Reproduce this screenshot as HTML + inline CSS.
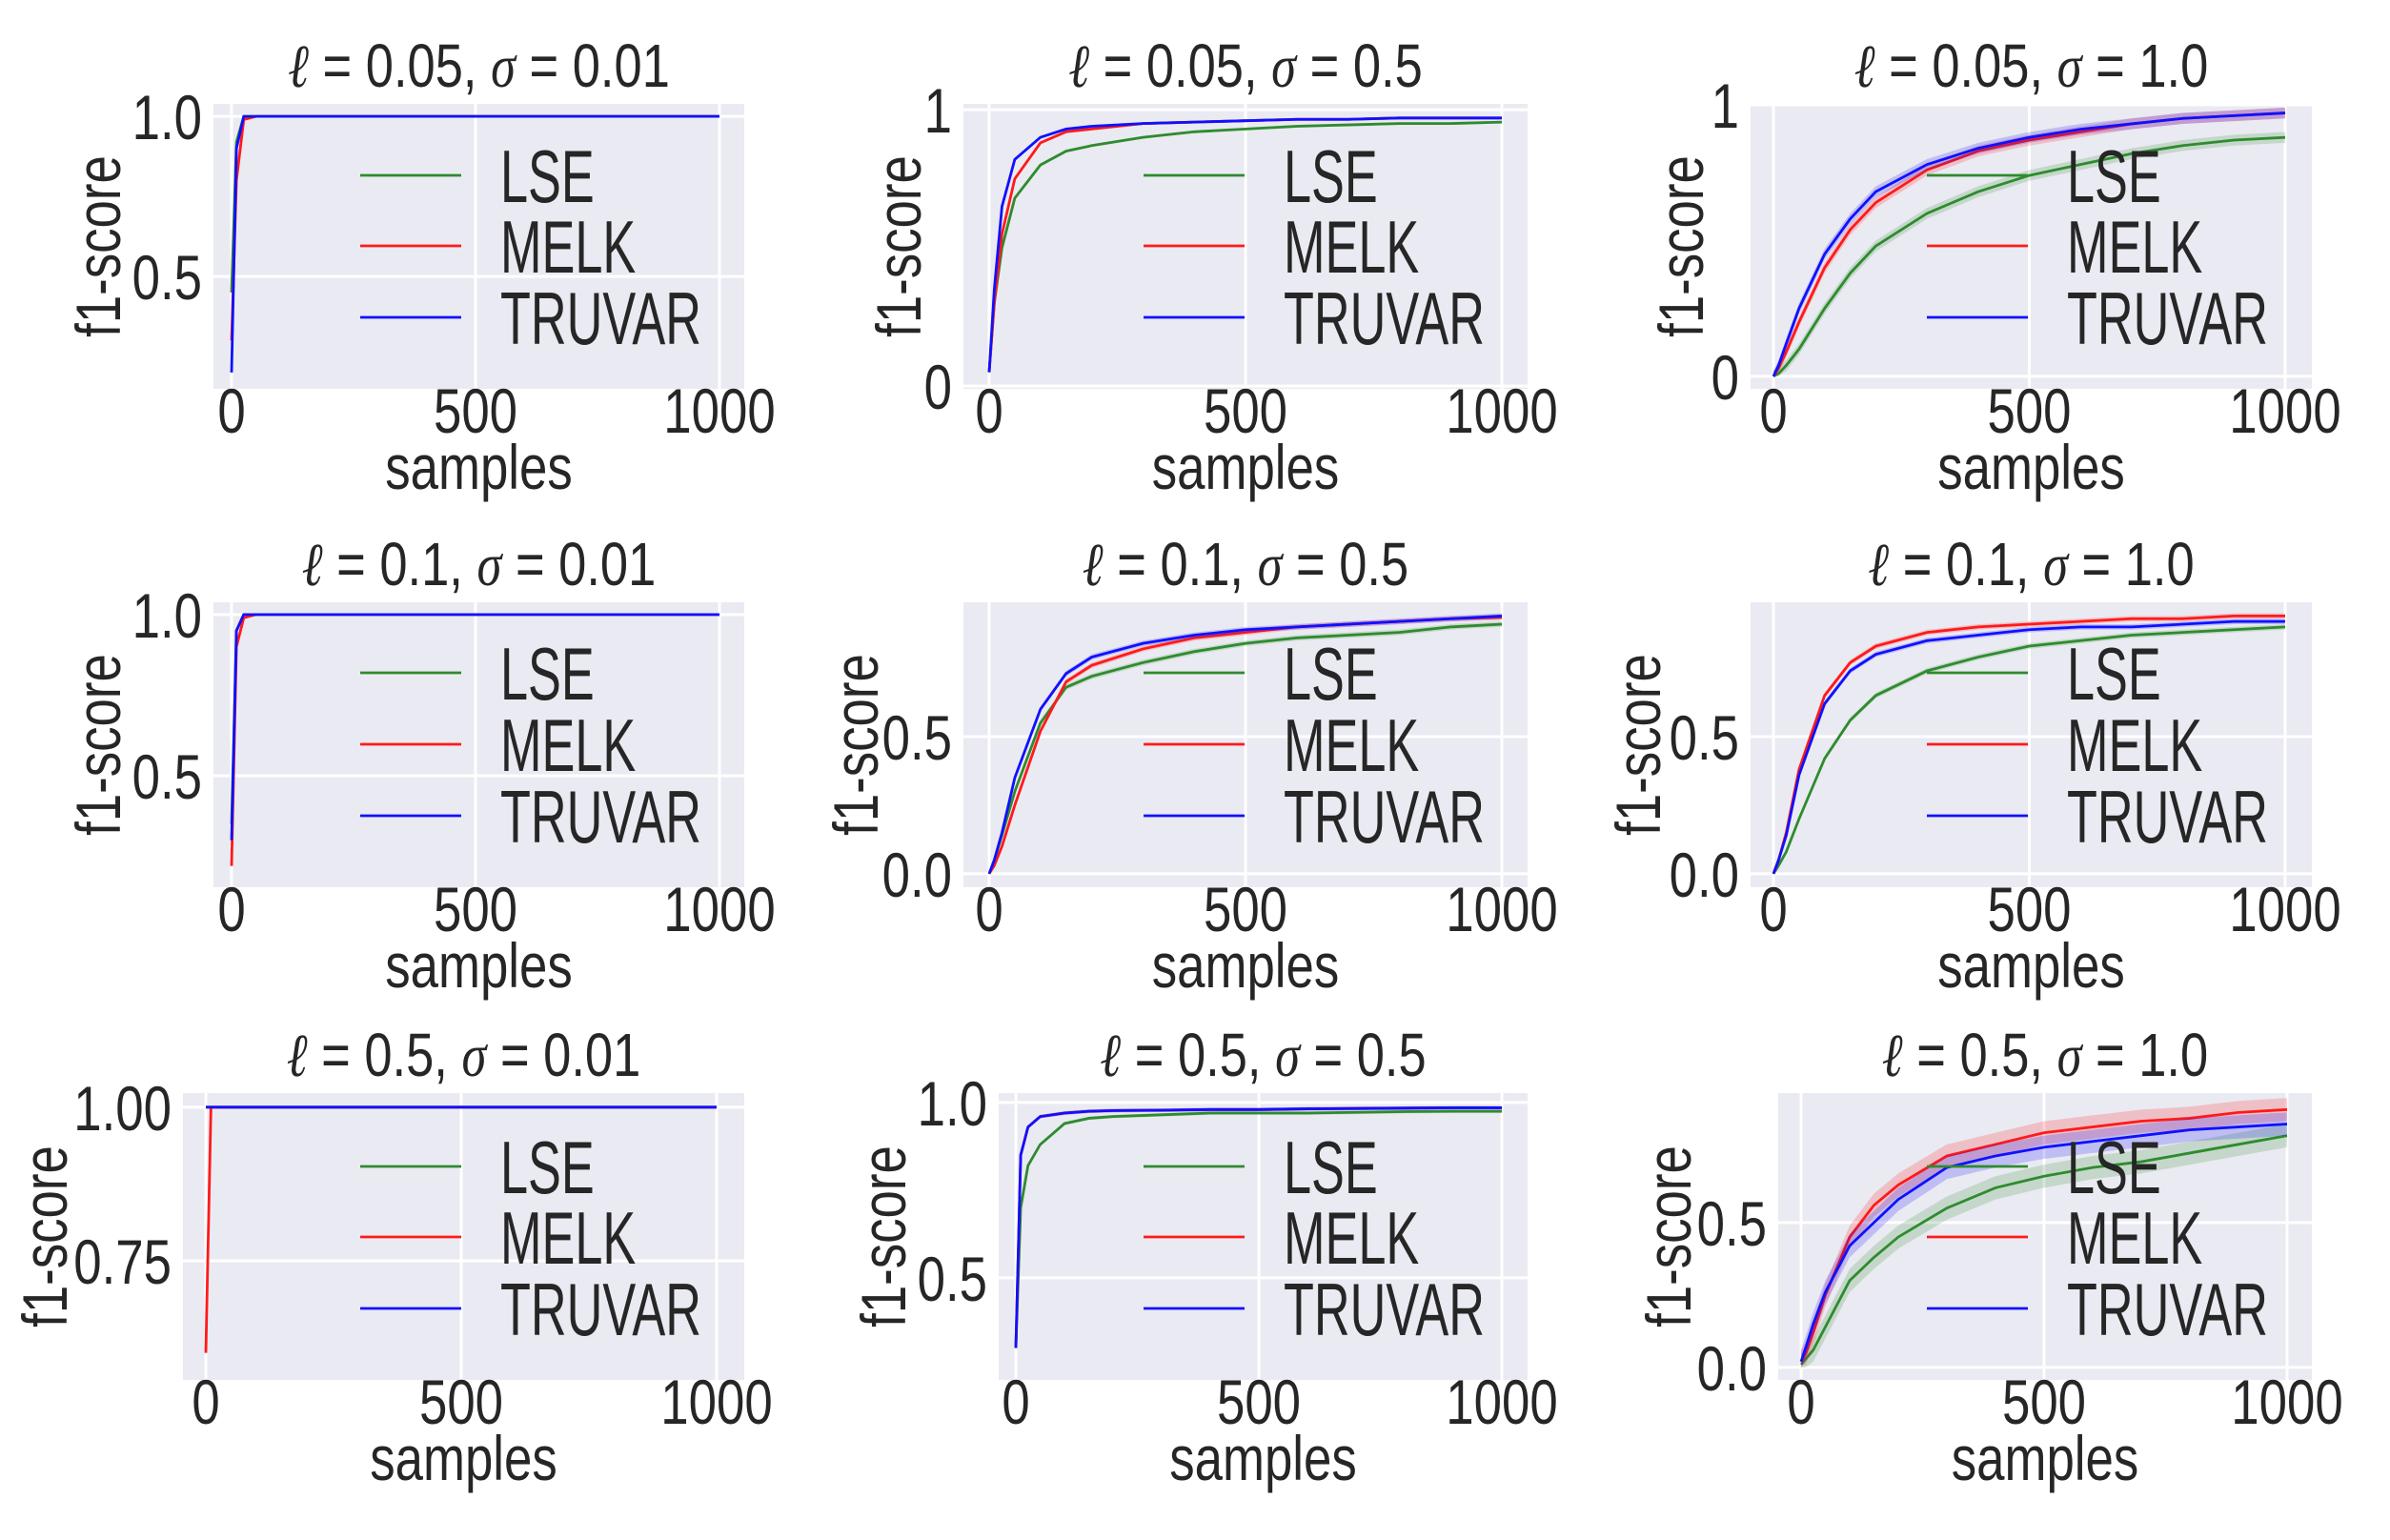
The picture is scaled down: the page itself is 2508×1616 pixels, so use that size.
<!DOCTYPE html>
<html><head><meta charset="utf-8"><style>
html,body{margin:0;padding:0;background:#fff;}
svg{display:block;font-family:"Liberation Sans",sans-serif;}
</style></head><body>
<svg id="fig" width="2508" height="1616" viewBox="0 0 2508 1616" xmlns="http://www.w3.org/2000/svg"></svg>
<script>
const samples = [0,10,25,50,100,150,200,300,400,500,600,700,800,900,1000];
const seriesNames = ["LSE","MELK","TRUVAR"];
const seriesColors = ["#2e8b2e","#ff1a1a","#1010ff"];
// panel data (f1-score values at each sample count)
const lse_r1c1 = [0.45,0.92,1,1,1,1,1,1,1,1,1,1,1,1,1];
const melk_r1c1 = [0.3,0.8,0.99,1,1,1,1,1,1,1,1,1,1,1,1];
const truvar_r1c1 = [0.2,0.9,1,1,1,1,1,1,1,1,1,1,1,1,1];
const lse_r1c2 = [0.05,0.3,0.5,0.68,0.8,0.85,0.87,0.9,0.92,0.93,0.94,0.945,0.95,0.95,0.955];
const melk_r1c2 = [0.05,0.3,0.55,0.75,0.88,0.92,0.93,0.95,0.955,0.96,0.965,0.965,0.97,0.97,0.97];
const truvar_r1c2 = [0.05,0.35,0.65,0.82,0.9,0.93,0.94,0.95,0.955,0.96,0.965,0.965,0.97,0.97,0.97];
const lse_r1c3 = [0,0.01,0.04,0.1,0.25,0.38,0.48,0.6,0.68,0.74,0.78,0.82,0.85,0.87,0.88];
const melk_r1c3 = [0,0.03,0.09,0.2,0.4,0.54,0.64,0.76,0.83,0.87,0.9,0.93,0.95,0.96,0.97];
const truvar_r1c3 = [0,0.04,0.12,0.25,0.45,0.58,0.68,0.78,0.84,0.88,0.91,0.93,0.95,0.96,0.97];
const lse_r2c1 = [0.35,0.95,1,1,1,1,1,1,1,1,1,1,1,1,1];
const melk_r2c1 = [0.22,0.9,0.99,1,1,1,1,1,1,1,1,1,1,1,1];
const truvar_r2c1 = [0.3,0.95,1,1,1,1,1,1,1,1,1,1,1,1,1];
const lse_r2c2 = [0,0.05,0.14,0.3,0.55,0.68,0.72,0.77,0.81,0.84,0.86,0.87,0.88,0.9,0.91];
const melk_r2c2 = [0,0.03,0.1,0.25,0.52,0.7,0.76,0.82,0.86,0.88,0.9,0.91,0.92,0.93,0.935];
const truvar_r2c2 = [0,0.05,0.15,0.35,0.6,0.73,0.79,0.84,0.87,0.89,0.9,0.91,0.92,0.93,0.94];
const lse_r2c3 = [0,0.03,0.08,0.2,0.42,0.56,0.65,0.74,0.79,0.83,0.85,0.87,0.88,0.89,0.9];
const melk_r2c3 = [0,0.05,0.15,0.38,0.65,0.77,0.83,0.88,0.9,0.91,0.92,0.93,0.93,0.94,0.94];
const truvar_r2c3 = [0,0.05,0.14,0.36,0.62,0.74,0.8,0.85,0.87,0.89,0.9,0.9,0.91,0.92,0.92];
const lse_r3c1 = [1,1,1,1,1,1,1,1,1,1,1,1,1,1,1];
const melk_r3c1 = [0.6,1,1,1,1,1,1,1,1,1,1,1,1,1,1];
const truvar_r3c1 = [1,1,1,1,1,1,1,1,1,1,1,1,1,1,1];
const lse_r3c2 = [0.3,0.7,0.82,0.88,0.94,0.955,0.96,0.965,0.97,0.97,0.97,0.972,0.974,0.975,0.975];
const melk_r3c2 = [0.3,0.85,0.93,0.96,0.97,0.975,0.977,0.978,0.98,0.98,0.982,0.983,0.984,0.985,0.985];
const truvar_r3c2 = [0.3,0.85,0.93,0.96,0.97,0.975,0.977,0.978,0.98,0.98,0.982,0.983,0.984,0.985,0.985];
const lse_r3c3 = [0.01,0.03,0.06,0.14,0.3,0.38,0.45,0.55,0.62,0.66,0.69,0.71,0.74,0.77,0.8];
const melk_r3c3 = [0.02,0.05,0.12,0.25,0.45,0.56,0.63,0.73,0.77,0.81,0.83,0.85,0.86,0.88,0.89];
const truvar_r3c3 = [0.02,0.07,0.15,0.26,0.42,0.5,0.58,0.69,0.73,0.76,0.78,0.8,0.82,0.83,0.84];
const titles = ["0.05|0.01","0.05|0.5","0.05|1.0","0.1|0.01","0.1|0.5","0.1|1.0","0.5|0.01","0.5|0.5","0.5|1.0"];
const yTickVals = [[0.5,1.0],[0,1],[0,1],[0.5,1.0],[0,0.5],[0,0.5],[0.75,1.0],[0.5,1.0],[0,0.5]];
const yTickLabels = [["0.5","1.0"],["0","1"],["0","1"],["0.5","1.0"],["0.0","0.5"],["0.0","0.5"],["0.75","1.00"],["0.5","1.0"],["0.0","0.5"]];
const bandWidths = [0,0.005,0.02,0,0.01,0.01,0,0.005,0.04];
const xTickVals = [0,500,1000];
const xTickLabels = ["0","500","1000"];

const panelData = [
 [lse_r1c1,melk_r1c1,truvar_r1c1],[lse_r1c2,melk_r1c2,truvar_r1c2],[lse_r1c3,melk_r1c3,truvar_r1c3],
 [lse_r2c1,melk_r2c1,truvar_r2c1],[lse_r2c2,melk_r2c2,truvar_r2c2],[lse_r2c3,melk_r2c3,truvar_r2c3],
 [lse_r3c1,melk_r3c1,truvar_r3c1],[lse_r3c2,melk_r3c2,truvar_r3c2],[lse_r3c3,melk_r3c3,truvar_r3c3]];

const layout = [
 {l:224,r:781,t:109,b:408,x0:243,x1:755,y0:0.149,y1:1.039,yl:104,lg:378},
 {l:1011,r:1603,t:109,b:408,x0:1038,x1:1576,y0:-0.010,y1:1.021,yl:944,lg:1200},
 {l:1837,r:2426,t:109,b:408,x0:1861,x1:2398,y0:-0.046,y1:1.0035,yl:1765,lg:2022},
 {l:224,r:781,t:632,b:931,x0:243,x1:755,y0:0.154,y1:1.038,yl:104,lg:378},
 {l:1011,r:1603,t:632,b:931,x0:1038,x1:1576,y0:-0.049,y1:0.99,yl:899,lg:1200},
 {l:1837,r:2426,t:632,b:931,x0:1861,x1:2398,y0:-0.049,y1:0.99,yl:1720,lg:2022},
 {l:192,r:781,t:1147,b:1448,x0:216,x1:752,y0:0.556,y1:1.023,yl:48,lg:378},
 {l:1048,r:1603,t:1147,b:1448,x0:1066,x1:1576,y0:0.209,y1:1.027,yl:928,lg:1200},
 {l:1866,r:2426,t:1147,b:1448,x0:1890,x1:2400,y0:-0.043,y1:0.947,yl:1752,lg:2022}
];
const rowLegendY = [[184,258,333],[706,781,856],[1224,1298,1373]];

const NS="http://www.w3.org/2000/svg";
const svg=document.getElementById('fig');
function mk(tag,attrs,parent){const e=document.createElementNS(NS,tag);for(const k in attrs)e.setAttribute(k,attrs[k]);(parent||svg).appendChild(e);return e;}
function txt(x,y,s,size,anchor,sx,parent){
  const t=mk('text',{transform:`translate(${x},${y}) scale(${sx},1)`,'font-size':size,'text-anchor':anchor,fill:'#262626'},parent);
  t.textContent=s;return t;
}

layout.forEach((L,i)=>{
  const g=mk('g',{});
  
  
  const sx=v=>L.x0+(v/1000)*(L.x1-L.x0);
  const sy=v=>L.b-(v-L.y0)/(L.y1-L.y0)*(L.b-L.t);
  const bg=mk('rect',{x:L.l,y:L.t,width:L.r-L.l,height:L.b-L.t,fill:'#eaeaf2'},g);
  
  
  xTickVals.forEach((v,k)=>{
    mk('line',{x1:sx(v),x2:sx(v),y1:L.t,y2:L.b,stroke:'#fff','stroke-width':3},g);
    const t=txt(sx(v),L.b+46,xTickLabels[k],66,'middle',0.8,g);
    
    
  });
  yTickVals[i].forEach((v,k)=>{
    mk('line',{x1:L.l,x2:L.r,y1:sy(v),y2:sy(v),stroke:'#fff','stroke-width':3},g);
    const t=txt(L.l-12,sy(v)+24,yTickLabels[i][k],66,'end',0.8,g);
    
    
  });
  panelData[i].forEach((vals,s)=>{
    const bw=bandWidths[i];
    if(bw>0){
      let d='M'+samples.map((x,k)=>sx(x)+','+sy(Math.min(vals[k]+bw,1))).join('L');
      for(let k=samples.length-1;k>=0;k--) d+='L'+sx(samples[k])+','+sy(Math.max(vals[k]-bw,0));
      const band=mk('path',{d:d+'Z',fill:seriesColors[s],'fill-opacity':0.2,stroke:'none'},g);
      
      
    }
    const p=mk('polyline',{points:samples.map((x,k)=>sx(x)+','+sy(vals[k])).join(' '),fill:'none',stroke:seriesColors[s],'stroke-width':2.8},g);
    
    
  });
  const row=Math.floor(i/3);
  seriesNames.forEach((n,s)=>{
    const y=rowLegendY[row][s];
    const lg=mk('g',{},g);
    
    
    mk('line',{x1:L.lg,x2:L.lg+106,y1:y,y2:y,stroke:seriesColors[s],'stroke-width':2.8},lg);
    txt(L.lg+147,y+28,n,78,'start',0.67,lg);
  });
  const [lv,sv]=titles[i].split('|');
  const tt=mk('text',{transform:`translate(${(L.l+L.r)/2},${L.t-18}) scale(0.82,1)`,'font-size':64,'text-anchor':'middle',fill:'#262626'},g);
  
  
  tt.innerHTML=`<tspan font-style="italic" font-family="Liberation Serif">ℓ</tspan> = ${lv}, <tspan font-style="italic" font-family="Liberation Serif">σ</tspan> = ${sv}`;
  const xl=txt((L.l+L.r)/2,L.b+105,'samples',66,'middle',0.8,g);
  
  
  const yt=mk('text',{transform:`translate(${L.yl+22},${(L.t+L.b)/2}) rotate(-90) scale(0.8,1)`,'font-size':66,'text-anchor':'middle',fill:'#262626'},g);
  yt.textContent='f1-score';
  
  
});
</script>
</body></html>
